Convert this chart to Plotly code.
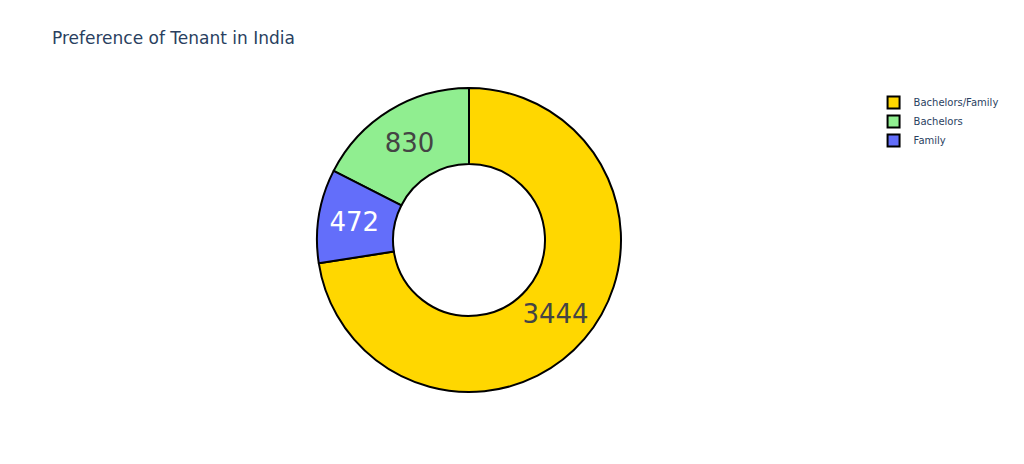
import plotly.graph_objects as go

tenants = ["Bachelors/Family", "Bachelors", "Family"]
counts = [3444, 830, 472]
colors = ["gold", "lightgreen", "#636efa"]

fig = go.Figure(
    go.Pie(
        labels=tenants,
        values=counts,
        hole=0.5,
        textinfo="value",
        textfont_size=26,
        insidetextorientation="horizontal",
        marker=dict(colors=colors, line=dict(color="black", width=2)),
    )
)

fig.update_layout(
    title=dict(text="Preference of Tenant in India", x=0.043, y=0.948),
    font_family="DejaVu Sans",
    legend=dict(font=dict(size=10)),
    margin=dict(l=72, r=174, t=80, b=80),
    width=1024,
    height=464,
)
fig.write_html("out.html")
